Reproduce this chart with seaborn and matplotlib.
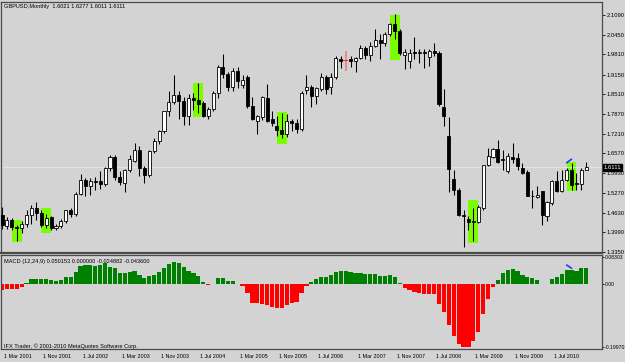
import numpy as np
import pandas as pd
import matplotlib
matplotlib.use("Agg")
import matplotlib.pyplot as plt
import matplotlib.transforms as mtransforms
import seaborn as sns

# GBPUSD monthly, Mar 2001 .. Feb 2011 (one row per bar)
opens = [1.455, 1.420, 1.438, 1.416, 1.412, 1.426, 1.455, 1.479, 1.462, 1.424,
         1.447, 1.413, 1.420, 1.435, 1.470, 1.458, 1.524, 1.571, 1.549, 1.566,
         1.566, 1.556, 1.609, 1.646, 1.578, 1.560, 1.602, 1.633, 1.668, 1.609,
         1.587, 1.664, 1.697, 1.730, 1.795, 1.825, 1.847, 1.828, 1.779, 1.839,
         1.832, 1.822, 1.778, 1.801, 1.855, 1.940, 1.918, 1.874, 1.926, 1.880,
         1.907, 1.812, 1.764, 1.776, 1.839, 1.768, 1.746, 1.732, 1.719, 1.762,
         1.757, 1.736, 1.864, 1.873, 1.846, 1.867, 1.906, 1.873, 1.906, 1.967,
         1.962, 1.966, 1.960, 1.969, 2.002, 1.980, 2.009, 2.029, 2.017, 2.048,
         2.081, 2.058, 1.978, 1.959, 1.988, 1.986, 1.988, 1.973, 1.992, 1.987,
         1.809, 1.713, 1.573, 1.538, 1.456, 1.443, 1.431, 1.431, 1.478, 1.620,
         1.645, 1.671, 1.639, 1.598, 1.644, 1.642, 1.609, 1.595, 1.517, 1.514,
         1.533, 1.453, 1.495, 1.568, 1.535, 1.571, 1.603, 1.560, 1.558, 1.6021]
highs = [1.480, 1.447, 1.445, 1.424, 1.435, 1.470, 1.487, 1.497, 1.470, 1.460,
         1.452, 1.425, 1.442, 1.472, 1.478, 1.530, 1.588, 1.575, 1.575, 1.580,
         1.598, 1.612, 1.652, 1.650, 1.600, 1.605, 1.650, 1.690, 1.680, 1.615,
         1.668, 1.708, 1.735, 1.790, 1.860, 1.915, 1.862, 1.840, 1.850, 1.855,
         1.888, 1.830, 1.810, 1.860, 1.945, 1.981, 1.925, 1.935, 1.940, 1.915,
         1.912, 1.840, 1.782, 1.846, 1.885, 1.795, 1.780, 1.790, 1.785, 1.768,
         1.768, 1.860, 1.912, 1.880, 1.875, 1.919, 1.912, 1.919, 1.975, 1.977,
         1.993, 1.977, 1.971, 2.013, 2.010, 2.020, 2.064, 2.048, 2.053, 2.085,
         2.113, 2.064, 1.998, 1.998, 2.039, 1.998, 1.998, 1.998, 2.017, 1.992,
         1.868, 1.775, 1.604, 1.544, 1.473, 1.453, 1.478, 1.489, 1.620, 1.675,
         1.675, 1.702, 1.669, 1.659, 1.691, 1.659, 1.626, 1.604, 1.538, 1.549,
         1.533, 1.500, 1.571, 1.600, 1.604, 1.609, 1.626, 1.593, 1.609, 1.6277]
lows = [1.410, 1.410, 1.405, 1.369, 1.395, 1.415, 1.425, 1.440, 1.415, 1.413,
        1.405, 1.406, 1.412, 1.430, 1.450, 1.452, 1.520, 1.516, 1.520, 1.538,
        1.540, 1.550, 1.600, 1.570, 1.553, 1.530, 1.595, 1.628, 1.583, 1.560,
        1.580, 1.658, 1.688, 1.725, 1.780, 1.818, 1.768, 1.750, 1.750, 1.800,
        1.790, 1.775, 1.770, 1.795, 1.838, 1.905, 1.860, 1.860, 1.870, 1.870,
        1.805, 1.765, 1.720, 1.765, 1.760, 1.745, 1.715, 1.708, 1.712, 1.730,
        1.725, 1.730, 1.852, 1.810, 1.820, 1.862, 1.850, 1.850, 1.900, 1.938,
        1.928, 1.940, 1.922, 1.965, 1.966, 1.960, 2.006, 1.966, 2.010, 2.040,
        2.031, 1.980, 1.932, 1.938, 1.967, 1.954, 1.938, 1.943, 1.976, 1.812,
        1.746, 1.530, 1.522, 1.451, 1.351, 1.407, 1.369, 1.428, 1.473, 1.615,
        1.642, 1.626, 1.604, 1.593, 1.626, 1.604, 1.588, 1.516, 1.478, 1.511,
        1.424, 1.434, 1.489, 1.532, 1.530, 1.566, 1.538, 1.536, 1.538, 1.6011]
closes = [1.422, 1.438, 1.416, 1.412, 1.426, 1.455, 1.479, 1.462, 1.424, 1.445,
          1.414, 1.420, 1.435, 1.470, 1.458, 1.524, 1.571, 1.549, 1.568, 1.563,
          1.556, 1.609, 1.646, 1.578, 1.562, 1.602, 1.637, 1.668, 1.609, 1.587,
          1.664, 1.697, 1.730, 1.795, 1.825, 1.847, 1.828, 1.779, 1.839, 1.832,
          1.820, 1.780, 1.801, 1.855, 1.941, 1.916, 1.874, 1.926, 1.894, 1.898,
          1.812, 1.768, 1.779, 1.841, 1.764, 1.755, 1.732, 1.721, 1.762, 1.755,
          1.738, 1.856, 1.873, 1.846, 1.870, 1.906, 1.867, 1.908, 1.969, 1.958,
          1.962, 1.961, 1.969, 2.002, 1.980, 2.009, 2.029, 2.017, 2.048, 2.081,
          2.059, 1.987, 1.989, 1.987, 1.984, 1.986, 1.984, 1.992, 1.985, 1.817,
          1.779, 1.606, 1.536, 1.456, 1.453, 1.432, 1.434, 1.481, 1.620, 1.647,
          1.671, 1.628, 1.635, 1.648, 1.639, 1.615, 1.593, 1.516, 1.516, 1.522,
          1.454, 1.497, 1.568, 1.535, 1.571, 1.603, 1.555, 1.557, 1.604, 1.6111]

# MACD histogram (12,24,9)
macd = [-0.0194, -0.0162, -0.0162, -0.0162, -0.0110, 0.0016, 0.0141, 0.0162, 0.0141, 0.0141,
        0.0110, 0.0100, 0.0110, 0.0225, 0.0225, 0.0362, 0.0561, 0.0592, 0.0592, 0.0561,
        0.0592, 0.0645, 0.0519, 0.0487, 0.0351, 0.0351, 0.0372, 0.0403, 0.0278, 0.0173,
        0.0246, 0.0278, 0.0362, 0.0487, 0.0624, 0.0686, 0.0645, 0.0519, 0.0414, 0.0351,
        0.0246, 0.0058, -0.0026, -0.0010, 0.0173, 0.0173, 0.0089, 0.0089, -0.0015, -0.0068,
        -0.0278, -0.0592, -0.0592, -0.0634, -0.0665, -0.0718, -0.0770, -0.0770, -0.0665, -0.0592,
        -0.0561, -0.0278, -0.0068, 0.0047, 0.0141, 0.0225, 0.0225, 0.0278, 0.0383, 0.0403,
        0.0403, 0.0383, 0.0351, 0.0351, 0.0309, 0.0299, 0.0299, 0.0246, 0.0246, 0.0278,
        0.0225, 0.0016, -0.0121, -0.0194, -0.0267, -0.0299, -0.0320, -0.0330, -0.0330, -0.0645,
        -0.0875, -0.1294, -0.1640, -0.1891, -0.1975, -0.1975, -0.1797, -0.1504, -0.0959, -0.0487,
        -0.0089, 0.0121, 0.0330, 0.0435, 0.0456, 0.0414, 0.0278, 0.0225, 0.0173, 0.0121,
        -0.0015, -0.0015, 0.0152, 0.0225, 0.0309, 0.0435, 0.0435, 0.0414, 0.0487, 0.0502]

# highlighted bars (signal boxes)
box_bar = [3, 9, 40, 57, 80, 96, 116]
box_low = [1.367, 1.395, 1.775, 1.687, 1.962, 1.364, 1.535]
box_high = [1.439, 1.477, 1.886, 1.791, 2.111, 1.504, 1.630]

# divergence marks
div_bar = [115, 116]
div_price = [1.626, 1.638]
div_macd = [0.059, 0.049]

marked_bar = 70  # bar drawn in red

time_ticks = [0, 8, 16, 24, 32, 40, 48, 56, 64, 72, 80, 88, 96, 104, 112]
time_labels = ["1 Mar 2001", "1 Nov 2001", "1 Jul 2002", "1 Mar 2003", "1 Nov 2003",
               "1 Jul 2004", "1 Mar 2005", "1 Nov 2005", "1 Jul 2006", "1 Mar 2007",
               "1 Nov 2007", "1 Jul 2008", "1 Mar 2009", "1 Nov 2009", "1 Jul 2010"]
price_ticks = [2.1090, 2.0450, 1.9810, 1.9150, 1.8510, 1.7870, 1.7210, 1.6570,
               1.5930, 1.5270, 1.4630, 1.3990, 1.3350]
macd_ticks = [0.08303, 0.0, -0.19970]
macd_tick_labels = ["0.08303", "0.00", "-0.19970"]

last_price = 1.6111

W, H = 625, 362
BG = "#D3D3D3"
FRAME = "#4A4A4A"

sns.set_style("white")
plt.rcParams["font.family"] = ["Liberation Sans", "DejaVu Sans"]

fig = plt.figure(figsize=(W / 100, H / 100), dpi=100, facecolor=BG)


def frac(x0, y0, x1, y1):
    return [x0 / W, 1 - y1 / H, (x1 - x0) / W, (y1 - y0) / H]


ax = fig.add_axes(frac(1, 2, 602, 253))
ax2 = fig.add_axes(frac(1, 255, 602, 349))

df = pd.DataFrame({"bar": np.arange(len(opens)), "open": opens, "high": highs,
                   "low": lows, "close": closes})
df["lo"] = df[["open", "close"]].min(axis=1)
df["h"] = (df["close"] - df["open"]).abs().clip(lower=0.0025)
plain = df[df["bar"] != marked_bar]
up = plain[plain["close"] >= plain["open"]]
dn = plain[plain["close"] < plain["open"]]

# signal boxes behind the candles
for b, lo, hi in zip(box_bar, box_low, box_high):
    ax.bar(b, hi - lo, bottom=lo, width=2.0, color="#7CFC00", linewidth=0, zorder=1)

ax.axhline(last_price, color="#E2E2E2", lw=0.8, zorder=1.5)
ax.vlines(plain["bar"], plain["low"], plain["high"], color="black", lw=0.75, zorder=2)
ax.bar(up["bar"], up["h"], bottom=up["lo"], width=0.62, color="white",
       edgecolor="black", linewidth=0.6, zorder=3)
ax.bar(dn["bar"], dn["h"], bottom=dn["lo"], width=0.62, color="black",
       edgecolor="black", linewidth=0.6, zorder=3)

m = df[df["bar"] == marked_bar]
ax.vlines(m["bar"], m["low"], m["high"], color="#E88A8A", lw=1.4, zorder=2)
ax.bar(m["bar"], 0.003, bottom=m["lo"] - 0.0015, width=1.0, color="#FF2020",
       linewidth=0, zorder=3)

ax.plot(div_bar, div_price, color="#1E3CFF", lw=1.2, zorder=4)

ax.set_xlim(-0.2, 122.2)
ax.set_ylim(1.3307, 2.1526)

# MACD histogram
mdf = pd.DataFrame({"bar": np.arange(len(macd)), "macd": macd})
mdf["sign"] = np.where(mdf["macd"] >= 0, "up", "down")
sns.barplot(data=mdf, x="bar", y="macd", hue="sign", palette={"up": "#008000", "down": "#FF0000"},
            dodge=False, native_scale=True, width=0.86, saturation=1, errorbar=None,
            legend=False, linewidth=0, ax=ax2)
ax2.plot(div_bar, div_macd, color="#1E3CFF", lw=1.2, zorder=4)
ax2.set_xlim(-0.2, 122.2)
ax2.set_ylim(-0.2050, 0.0906)
ax2.set_xlabel("")
ax2.set_ylabel("")

for a in (ax, ax2):
    a.set_facecolor(BG)
    for s in a.spines.values():
        s.set_visible(True)
        s.set_color(FRAME)
        s.set_linewidth(0.9)
    a.yaxis.tick_right()

ax.tick_params(axis="y", length=2, width=0.6, pad=1.5, labelsize=4.2,
               colors="black", direction="out")
ax2.tick_params(axis="y", length=1.5, width=0.6, pad=0.6, labelsize=3.7,
                colors="black", direction="out")

ax.set_xticks([])
ax.set_yticks(price_ticks)
ax.set_yticklabels([f"{v:.4f}" for v in price_ticks])
ax.spines["bottom"].set_linewidth(1.6)

ax2.set_yticks(macd_ticks)
ax2.set_yticklabels(macd_tick_labels)
ax2.set_xticks(time_ticks)
ax2.set_xticklabels([])
ax2.tick_params(axis="x", length=3.5, width=0.6, colors=FRAME, direction="out")

shift = mtransforms.blended_transform_factory(ax2.transData, ax2.transAxes) + \
    mtransforms.ScaledTranslation(2 / 100, -8 / 100, fig.dpi_scale_trans)
for t, lab in zip(time_ticks, time_labels):
    ax2.text(t, 0, lab, transform=shift, ha="left", va="center", fontsize=3.9,
             color="black", clip_on=False)

# current price tag on the price scale
ax.annotate(f"{last_price:.4f}", xy=(1, last_price), xycoords=("axes fraction", "data"),
            xytext=(1.2, 0), textcoords="offset points", ha="left", va="center",
            fontsize=4.2, color="white", annotation_clip=False, zorder=10,
            bbox=dict(boxstyle="square,pad=0.2", fc="black", ec="black"))

fig.text(4 / W, 1 - 6.5 / H, "GBPUSD,Monthly  1.6021 1.6277 1.6011 1.6111",
         fontsize=4.1, color="black", ha="left", va="center")
fig.text(4 / W, 1 - 261 / H, "MACD (12,24,9) 0.050153 0.000000 -0.024882 -0.043600",
         fontsize=4.1, color="black", ha="left", va="center")
fig.text(4 / W, 1 - 346.5 / H, "IFX Trader, \u00a9 2001-2010 MetaQuotes Software Corp.",
         fontsize=4.1, color="black", ha="left", va="center")

fig.savefig("out.png", dpi=100, facecolor=BG)
